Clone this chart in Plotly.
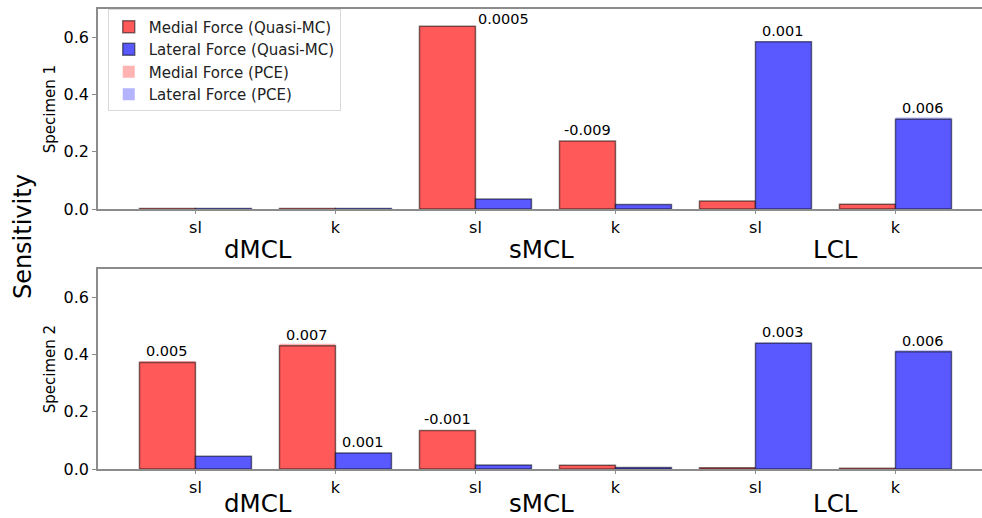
import plotly.graph_objects as go

# Parameters per ligament
params = ["sl", "k", "sl", "k", "sl", "k"]
ligaments = ["dMCL", "sMCL", "LCL"]
specimens = ["Specimen 1", "Specimen 2"]

# Total sensitivity indices, Quasi-Monte Carlo
medial_qmc_s1 = [0.002, 0.002, 0.640, 0.238, 0.028, 0.017]
lateral_qmc_s1 = [0.002, 0.002, 0.035, 0.016, 0.585, 0.314]
medial_qmc_s2 = [0.373, 0.431, 0.135, 0.013, 0.004, 0.003]
lateral_qmc_s2 = [0.045, 0.056, 0.014, 0.005, 0.440, 0.410]

# Total sensitivity indices, polynomial chaos expansion
medial_pce_s1 = [0.002, 0.002, 0.6405, 0.229, 0.028, 0.017]
lateral_pce_s1 = [0.002, 0.002, 0.035, 0.016, 0.586, 0.320]
medial_pce_s2 = [0.378, 0.438, 0.134, 0.013, 0.004, 0.003]
lateral_pce_s2 = [0.045, 0.057, 0.014, 0.005, 0.443, 0.416]

# PCE minus Quasi-MC, printed above the dominant bars
medial_diff_s1 = [None, None, "0.0005", "-0.009", None, None]
lateral_diff_s1 = [None, None, None, None, "0.001", "0.006"]
medial_diff_s2 = ["0.005", "0.007", "-0.001", None, None, None]
lateral_diff_s2 = [None, "0.001", None, None, "0.003", "0.006"]

FONT = "DejaVu Sans"
RED = "#FF5959"
BLUE = "#5959FF"
RED_LIGHT = "#FFB3B3"
BLUE_LIGHT = "#B3B3FF"
EDGE = "rgba(0,0,0,0.5)"
SPINE = "#8c8c8c"
BAR_W = 0.4

data = {
    "Specimen 1": dict(mq=medial_qmc_s1, lq=lateral_qmc_s1, mp=medial_pce_s1,
                       lp=lateral_pce_s1, md=medial_diff_s1, ld=lateral_diff_s1),
    "Specimen 2": dict(mq=medial_qmc_s2, lq=lateral_qmc_s2, mp=medial_pce_s2,
                       lp=lateral_pce_s2, md=medial_diff_s2, ld=lateral_diff_s2),
}

# label on the tall sMCL bar sits beside it, over the lateral slot
label_nudge = {("Specimen 1", "m", 2): (BAR_W, -4)}

# horizontal placement of the ligament names (in category units)
ligament_x = [0.45, 2.47, 4.575]
# vertical placement of the ligament names (fraction of each panel)
ligament_y = [-0.20, -0.172]

xpos = list(range(len(params)))
fig = go.Figure()
annotations = []

for k, spec in enumerate(specimens):
    d = data[spec]
    xa = "x" if k == 0 else "x2"
    ya = "y" if k == 0 else "y2"
    first = k == 0
    # PCE bars sit behind the Quasi-MC bars
    fig.add_trace(go.Bar(x=xpos, y=d["mp"], offset=-BAR_W, width=BAR_W,
                         marker=dict(color=RED_LIGHT, line=dict(width=0)),
                         name="Medial Force (PCE)", legendrank=3,
                         showlegend=first, xaxis=xa, yaxis=ya))
    fig.add_trace(go.Bar(x=xpos, y=d["lp"], offset=0, width=BAR_W,
                         marker=dict(color=BLUE_LIGHT, line=dict(width=0)),
                         name="Lateral Force (PCE)", legendrank=4,
                         showlegend=first, xaxis=xa, yaxis=ya))
    fig.add_trace(go.Bar(x=xpos, y=d["mq"], offset=-BAR_W, width=BAR_W,
                         marker=dict(color=RED, line=dict(color=EDGE, width=1.5)),
                         name="Medial Force (Quasi-MC)", legendrank=1,
                         showlegend=first, xaxis=xa, yaxis=ya))
    fig.add_trace(go.Bar(x=xpos, y=d["lq"], offset=0, width=BAR_W,
                         marker=dict(color=BLUE, line=dict(color=EDGE, width=1.5)),
                         name="Lateral Force (Quasi-MC)", legendrank=2,
                         showlegend=first, xaxis=xa, yaxis=ya))

    for side, vals, labels, off in (("m", d["mq"], d["md"], -BAR_W / 2),
                                    ("l", d["lq"], d["ld"], BAR_W / 2)):
        for i, (v, t) in enumerate(zip(vals, labels)):
            if t is None:
                continue
            dx, dy = label_nudge.get((spec, side, i), (0, 0))
            annotations.append(dict(
                x=i + off + dx, y=v,
                xref=xa, yref=ya, text=t, showarrow=False,
                xanchor="center", yanchor="bottom", yshift=1 + dy,
                font=dict(family=FONT, size=14.5, color="black")))

    # ligament names under each parameter pair
    for lx, lig in zip(ligament_x, ligaments):
        annotations.append(dict(
            x=lx, y=ligament_y[k], xref=xa, yref=f"{ya} domain",
            text=lig, showarrow=False, xanchor="center", yanchor="middle",
            font=dict(family=FONT, size=24.5, color="black")))

    # per-specimen axis title
    annotations.append(dict(
        x=-0.054, y=0.5, xref="paper", yref=f"{ya} domain", text=spec,
        textangle=-90, showarrow=False, xanchor="center", yanchor="middle",
        font=dict(family=FONT, size=15, color="black")))

annotations.append(dict(
    x=-0.085, y=0.506, xref="paper", yref="paper", text="Sensitivity",
    textangle=-90, showarrow=False, xanchor="center", yanchor="middle",
    font=dict(family=FONT, size=24, color="black")))

xaxis_common = dict(
    range=[-0.696, 5.618], tickmode="array", tickvals=xpos, ticktext=params,
    showline=True, linecolor=SPINE, linewidth=1.5, mirror=True,
    ticks="outside", ticklen=3, tickcolor=SPINE, showgrid=False, zeroline=False,
    tickfont=dict(family=FONT, size=16, color="black"))
yaxis_common = dict(
    range=[0, 0.70], tickvals=[0, 0.2, 0.4, 0.6], tickformat=".1f",
    showline=True, linecolor=SPINE, linewidth=1.5,
    ticks="outside", ticklen=4, tickcolor=SPINE, showgrid=False, zeroline=False,
    tickfont=dict(family=FONT, size=16, color="black"))

fig.update_layout(
    width=982, height=518,
    margin=dict(l=98, r=0, t=9, b=49),
    paper_bgcolor="white", plot_bgcolor="white",
    barmode="overlay",
    xaxis=dict(xaxis_common, domain=[0, 1], anchor="y"),
    yaxis=dict(yaxis_common, domain=[0.5652, 1], anchor="x"),
    xaxis2=dict(xaxis_common, domain=[0, 1], anchor="y2"),
    yaxis2=dict(yaxis_common, domain=[0, 0.4348], anchor="x2"),
    legend=dict(x=0.011, y=0.999, xanchor="left", yanchor="top",
                bgcolor="rgba(255,255,255,0.85)", bordercolor="#d9d9d9",
                borderwidth=1, font=dict(family=FONT, size=15, color="#222"),
                tracegroupgap=0, itemwidth=30),
    annotations=annotations,
    font=dict(family=FONT),
)

fig.write_html("out.html")
